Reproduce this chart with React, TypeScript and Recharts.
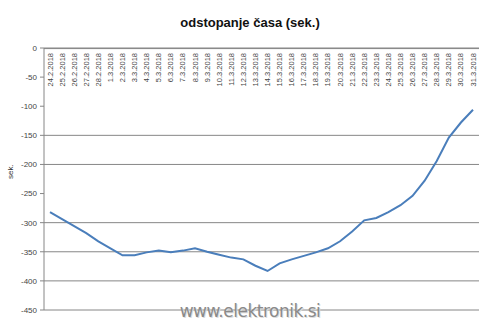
import React from 'react';
import { LineChart, Line, XAxis, YAxis, CartesianGrid, ReferenceLine } from 'recharts';

// category labels (top axis), one per day
const DATES = [
  '24.2.2018', '25.2.2018', '26.2.2018', '27.2.2018', '28.2.2018',
  '1.3.2018', '2.3.2018', '3.3.2018', '4.3.2018', '5.3.2018', '6.3.2018',
  '7.3.2018', '8.3.2018', '9.3.2018', '10.3.2018', '11.3.2018', '12.3.2018',
  '13.3.2018', '14.3.2018', '15.3.2018', '16.3.2018', '17.3.2018', '18.3.2018',
  '19.3.2018', '20.3.2018', '21.3.2018', '22.3.2018', '23.3.2018', '24.3.2018',
  '25.3.2018', '26.3.2018', '27.3.2018', '28.3.2018', '29.3.2018', '30.3.2018',
  '31.3.2018',
];

// deviation in seconds
const DEVIATION = [
  -282, -294, -306, -318, -332, -344, -356, -356, -351, -348, -351, -348,
  -344, -350, -355, -360, -363, -374, -383, -370, -363, -357, -351, -344,
  -332, -315, -296, -292, -282, -270, -254, -228, -194, -154, -128, -106,
];

const Y_TICKS = [0, -50, -100, -150, -200, -250, -300, -350, -400, -450];
// only these horizontal lines show up in the original
const GRID_VALUES = [-150, -200, -300, -350, -400, -450];

const data = DATES.map((d, i) => ({ date: d, value: DEVIATION[i] }));

const AXIS_GRAY = '#868686';
const FONT = '"Liberation Sans", Arial, sans-serif';

const DateTick = (props: any) => {
  const { x, payload } = props;
  const y = (props.y ?? 0) + 5;
  return (
    <text
      x={x}
      y={y}
      transform={`rotate(-90 ${x} ${y})`}
      textAnchor="end"
      dominantBaseline="central"
      fontSize={7.5}
      fontFamily={FONT}
      fill="#444"
    >
      {payload.value}
    </text>
  );
};

export default function App() {
  return (
    <div style={{ position: 'absolute', left: 0, top: 0, width: 500, height: 326, background: '#fff', overflow: 'hidden' }}>
      <div
        style={{
          position: 'absolute',
          top: 15,
          left: 0,
          width: 500,
          textAlign: 'center',
          fontFamily: FONT,
          fontWeight: 'bold',
          fontSize: 13,
          color: '#111',
        }}
      >
        odstopanje časa (sek.)
      </div>
      <LineChart width={500} height={326} data={data} margin={{ top: 47, right: 21, bottom: 16, left: 0 }}>
        <CartesianGrid horizontal={true} vertical={false} horizontalValues={GRID_VALUES} stroke={AXIS_GRAY} strokeWidth={1} />
        <XAxis
          dataKey="date"
          orientation="top"
          height={1}
          interval={0}
          padding={{ left: 6, right: 6 }}
          tickLine={false}
          tickSize={0}
          tickMargin={0}
          axisLine={{ stroke: AXIS_GRAY, strokeWidth: 1 }}
          tick={<DateTick />}
        />
        <YAxis
          type="number"
          domain={[-450, 0]}
          ticks={Y_TICKS}
          width={44}
          tickSize={4}
          tickMargin={3}
          stroke={AXIS_GRAY}
          tick={{ fontSize: 8, fill: '#444', fontFamily: FONT }}
          label={{ value: 'sek.', angle: -90, position: 'insideLeft', offset: 10, fontSize: 8, fill: '#333', fontFamily: FONT }}
        />
        {/* top border of the plot (a line exactly at 0 gets lost on the edge) */}
        <ReferenceLine y={-1} stroke={AXIS_GRAY} strokeWidth={1} ifOverflow="visible" />
        <Line
          type="linear"
          dataKey="value"
          stroke="#4a7ebb"
          strokeWidth={2}
          dot={false}
          isAnimationActive={false}
        />
      </LineChart>
      <div
        style={{
          position: 'absolute',
          top: 301,
          left: 0,
          width: 500,
          textAlign: 'center',
          fontFamily: '"DejaVu Sans", sans-serif',
          fontSize: 17,
          color: '#8a8a8a',
          textShadow: '1px 1px 0 #ddd',
          letterSpacing: -0.5,
        }}
      >
        www.elektronik.si
      </div>
    </div>
  );
}
